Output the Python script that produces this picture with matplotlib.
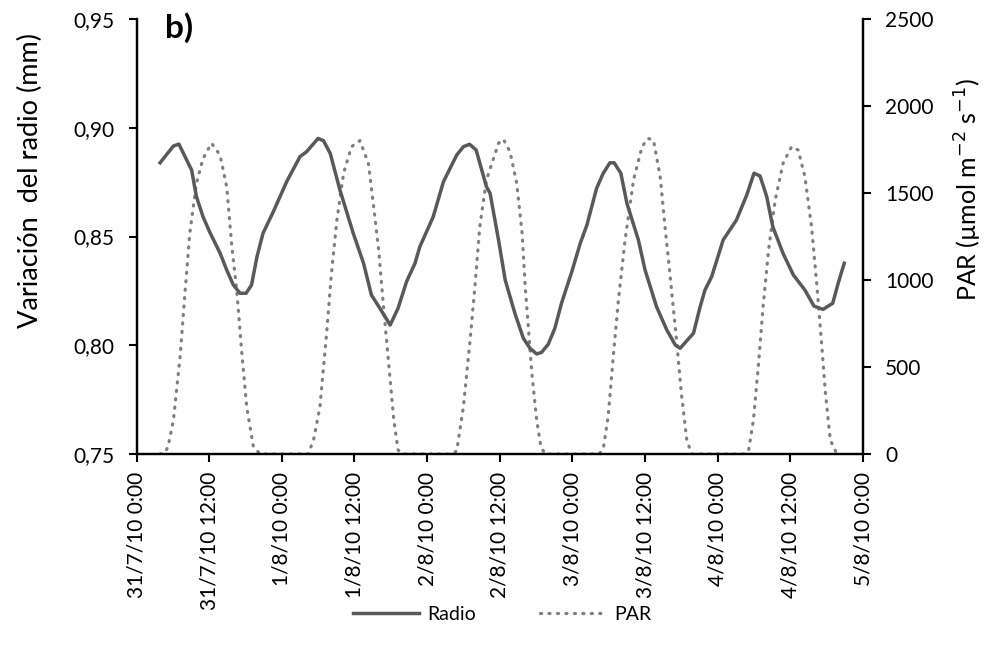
import matplotlib
matplotlib.use("Agg")
import matplotlib.pyplot as plt

plt.rcParams['font.family'] = ['Lato', 'DejaVu Sans']

# hours since 31/7/10 0:00
radio_t = [3.9, 6.1, 7.0, 9.1, 9.9, 11.0, 12.1, 13.8, 14.9, 16.0, 17.1, 18.1, 19.0, 19.9,
           20.9, 22.6, 24.8, 27.0, 28.1, 30.0, 30.9, 32.0, 33.6, 35.8, 37.5, 38.8, 40.2,
           41.9, 43.2, 44.6, 46.0, 46.8, 49.0, 50.7, 52.9, 54.0, 55.0, 56.1, 57.8, 58.4,
           59.8, 60.9, 62.5, 63.9, 65.0, 66.1, 66.9, 68.0, 69.1, 70.2, 71.9, 73.3, 74.4,
           76.0, 77.1, 78.2, 78.9, 80.0, 81.0, 82.9, 84.0, 85.9, 87.6, 89.0, 89.8, 90.9,
           92.0, 93.1, 93.9, 95.0, 96.9, 99.1, 100.8, 102.0, 103.0, 104.1, 105.1, 106.8,
           108.5, 110.4, 111.9, 113.4, 115.0, 115.9, 116.9]
radio_v = [0.8839, 0.8916, 0.8925, 0.8806, 0.8683, 0.8590, 0.8520, 0.8424, 0.8346, 0.8277,
           0.8239, 0.8239, 0.8277, 0.8407, 0.8515, 0.8614, 0.8752, 0.8867, 0.8890, 0.8951,
           0.8940, 0.8882, 0.8714, 0.8515, 0.8377, 0.8231, 0.8170, 0.8093, 0.8170, 0.8292,
           0.8377, 0.8453, 0.8590, 0.8752, 0.8875, 0.8913, 0.8924, 0.8898, 0.8729, 0.8699,
           0.8484, 0.8300, 0.8147, 0.8032, 0.7986, 0.7960, 0.7967, 0.8004, 0.8078, 0.8193,
           0.8338, 0.8469, 0.8553, 0.8722, 0.8791, 0.8839, 0.8839, 0.8791, 0.8653, 0.8484,
           0.8346, 0.8177, 0.8070, 0.8001, 0.7986, 0.8021, 0.8055, 0.8177, 0.8254, 0.8315,
           0.8484, 0.8576, 0.8691, 0.8791, 0.8778, 0.8683, 0.8545, 0.8422, 0.8323, 0.8254,
           0.8180, 0.8165, 0.8193, 0.8285, 0.8377]

par_t = [3.9, 4.6, 5.2, 6.1, 7.2, 8.0, 8.8, 9.9, 11.0, 12.4, 13.8, 14.9, 15.7, 16.6, 17.4,
         18.2, 19.3, 20.4, 28.4, 29.3, 30.3, 31.4, 32.2, 33.1, 34.2, 35.5, 36.9, 38.3, 39.1,
         40.0, 40.8, 41.7, 42.5, 43.2, 44.0, 52.3, 52.9, 54.0, 55.1, 55.9, 56.7, 57.8, 59.8,
         60.6, 61.7, 62.8, 63.7, 64.2, 64.8, 65.3, 66.1, 66.8, 67.5, 76.4, 77.1, 77.9, 78.8,
         79.6, 80.7, 82.1, 83.5, 84.5, 85.4, 86.5, 87.3, 88.1, 89.2, 90.0, 90.9, 91.7, 100.5,
         101.1, 101.9, 102.7, 103.5, 104.4, 105.5, 106.8, 108.2, 109.3, 110.4, 111.5, 112.4,
         113.2, 113.8, 114.6, 115.7, 116.2]
par_v = [0, 5, 40, 195, 559, 923, 1268, 1556, 1699, 1786, 1718, 1536, 1211, 923, 579,
         272, 42, 0, 0, 90, 272, 694, 1038, 1345, 1613, 1766, 1801, 1671, 1441,
         1172, 847, 502, 195, 23, 0, 0, 20, 272, 655, 962, 1306, 1575, 1786,
         1809, 1737, 1556, 1268, 962, 694, 464, 195, 40, 0, 0, 30, 214, 579,
         885, 1230, 1575, 1766, 1814, 1803, 1594, 1306, 1038, 655, 349, 80, 0, 0,
         20, 195, 502, 847, 1172, 1460, 1671, 1766, 1747, 1594, 1306, 962,
         617, 349, 80, 0, 0]

x_ticks = [0, 12, 24, 36, 48, 60, 72, 84, 96, 108, 120]
x_labels = ['31/7/10 0:00', '31/7/10 12:00', '1/8/10 0:00', '1/8/10 12:00', '2/8/10 0:00',
            '2/8/10 12:00', '3/8/10 0:00', '3/8/10 12:00', '4/8/10 0:00', '4/8/10 12:00',
            '5/8/10 0:00']
y_left_ticks = [0.75, 0.80, 0.85, 0.90, 0.95]
y_left_labels = ['0,75', '0,80', '0,85', '0,90', '0,95']
y_right_ticks = [0, 500, 1000, 1500, 2000, 2500]

W, H = 989, 656
fig = plt.figure(figsize=(W / 100, H / 100), dpi=100)
ax = fig.add_axes([136.5 / W, 1 - 454 / H, (863 - 136.5) / W, (454 - 19) / H])
ax2 = ax.twinx()

ax2.plot(par_t, par_v, color='#7f7f7f', lw=2.3, linestyle=(0, (0.35, 2.3)),
         dash_capstyle='round', solid_capstyle='round', label='PAR', zorder=2)
ax.plot(radio_t, radio_v, color='#595959', lw=2.5, label='Radio', zorder=3)
ax.set_zorder(ax2.get_zorder() + 1)
ax.patch.set_visible(False)

ax.set_xlim(0, 120)
ax.set_ylim(0.75, 0.95)
ax2.set_ylim(0, 2500)
ax.set_xticks(x_ticks)
ax.set_xticklabels(x_labels, rotation=90)
ax.set_yticks(y_left_ticks)
ax.set_yticklabels(y_left_labels)
ax2.set_yticks(y_right_ticks)

for a in (ax, ax2):
    for s in a.spines.values():
        s.set_linewidth(1.6)
        s.set_color('black')
    a.spines['top'].set_visible(False)
ax.tick_params(axis='both', direction='out', length=6, width=1.5, labelsize=15,
               colors='black')
ax.tick_params(axis='x', pad=7)
ax.tick_params(axis='y', pad=10)
ax2.tick_params(axis='y', direction='out', length=6, width=1.5, labelsize=15, pad=10)

fig.text(30 / W, 1 - 180 / H, 'Variación  del radio (mm)', rotation=90, ha='center',
         va='center', fontsize=19.5)
fig.text(968 / W, 1 - 190 / H, r'PAR (µmol m$^{-2}$ s$^{-1}$)', rotation=90, ha='center',
         va='center', fontsize=18)
fig.text(165 / W, 1 - 28 / H, 'b)', fontsize=24, fontweight='bold', ha='left', va='center')

h1, l1 = ax.get_legend_handles_labels()
h2, l2 = ax2.get_legend_handles_labels()
fig.legend(h1 + h2, l1 + l2, loc='center', bbox_to_anchor=(502 / W, 1 - 614 / H), ncol=2,
           frameon=False, fontsize=14, handlelength=3.4, columnspacing=3.3, handletextpad=0.4)

fig.savefig('out.png', dpi=100)
